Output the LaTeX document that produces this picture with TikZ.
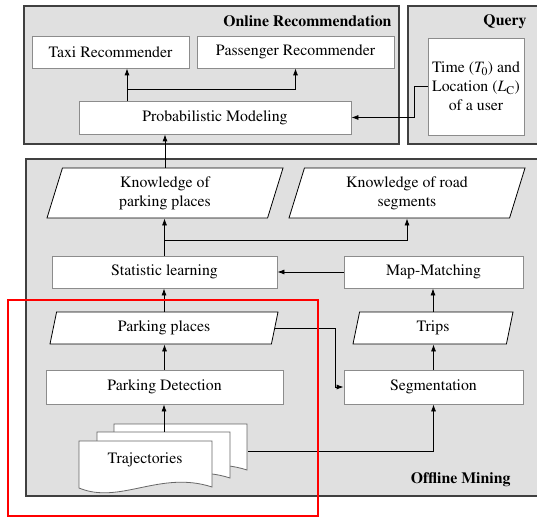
\documentclass[tikz,border=0pt]{standalone}
\usepackage[T1]{fontenc}
\usepackage{mathptmx}
\usetikzlibrary{positioning, shapes.geometric, arrows.meta}

\begin{document}
\begin{tikzpicture}[x = 1pt, y = -1pt,
    every node/.style = { font = \fontsize{15.8}{19}\selectfont, align = center },
    panel/.style = { draw = black!75, line width = 1.2pt, fill = black!12 },
    title/.style = { font = \fontsize{15.8}{19}\selectfont\bfseries, anchor = east },
    box/.style = { draw = black!45, fill = white, line width = .8pt, minimum height = 32pt, inner sep = 0pt },
    data/.style = { draw, fill = white, line width = .8pt, shape = trapezium, trapezium left angle = 65,
      trapezium right angle = 115, trapezium stretches body, inner sep = 0pt, minimum height = 32pt },
    doc/.style = { draw = black!60, fill = white, line width = .8pt },
    arr/.style = { -{Latex[length = 7pt, width = 5pt]}, line width = .8pt }]
  \useasboundingbox (0,0) rectangle (537,518);
  \clip (0,0) rectangle (537,518);

  % the three panels
  \draw[panel] (24,6) rectangle (399,144);
  \draw[panel] (408,6) rectangle (545,144);
  \draw[panel] (26,159) rectangle (545,496);
  \node[title] (online) at (395,21) {Online Recommendation};
  \node[title] (qtitle) at (530,22) {Query};
  \node[title] (offline) at (514,480) {Offline Mining};

  % online part
  \node[box, minimum width = 157pt] (taxi) at (110.5,52) {Taxi Recommender};
  \node[box, minimum width = 197pt] (pass) at (295.5,52) {Passenger Recommender};
  \node[box, minimum width = 272pt, minimum height = 33pt] (pm) at (215,117.5) {Probabilistic Modeling};
  \node[box, minimum width = 96pt, minimum height = 97pt] (query) at (476,86.5)
    {Time ($T_0$) and\\ Location ($L_\mathrm{C}$)\\ of a user};

  % offline part
  \node[data, minimum width = 236pt, minimum height = 50pt] (kpark) at (165,193) {Knowledge of\\ parking places};
  \node[data, minimum width = 236pt, minimum height = 50pt] (kroad) at (407,193) {Knowledge of road\\ segments};
  \node[box, minimum width = 225pt] (stat) at (164.5,272) {Statistic learning};
  \node[box, minimum width = 179pt] (map) at (433.5,272) {Map-Matching};
  \node[data, minimum width = 228pt] (park) at (164,328) {Parking places};
  \node[data, minimum width = 160pt] (trips) at (433,328) {Trips};
  \node[box, minimum width = 237pt, minimum height = 34pt] (det) at (164.5,387) {Parking Detection};
  \node[box, minimum width = 179pt, minimum height = 34pt] (seg) at (433.5,387) {Segmentation};

  % stack of trajectory files
  \foreach \dx/\dy in {35/17, 18/9, 0/0}
    \draw[doc] (79+\dx,441-\dy) -- (212+\dx,441-\dy) -- (212+\dx,487-\dy)
      .. controls (160+\dx,470-\dy) and (120+\dx,505-\dy) .. (79+\dx,488-\dy) -- cycle;
  \node (traj) at (145,460) {Trajectories};
  \coordinate (trajtop) at (164,432);
  \coordinate (trajright) at (248,451);

  % connectors
  \coordinate (psplit) at (127,89);
  \draw[arr] (psplit |- pm.north) -- (psplit |- taxi.south);
  \draw[arr] (psplit) -| (pass.south);
  \draw[arr] (query.west) -- ++(-13,0) |- (pm.east);
  \draw[arr] (kpark.north) -- (kpark.north |- pm.south);
  \coordinate (ksplit) at (164.5,240);
  \draw[arr] (stat.north) -- (stat.north |- kpark.south);
  \draw[arr] (ksplit) -| (kroad.south);
  \draw[arr] (map.west) -- (stat.east);
  \draw[arr] (trips.north) -- (trips.north |- map.south);
  \draw[arr] (seg.north) -- (seg.north |- trips.south);
  \draw[arr] (park.north) -- (park.north |- stat.south);
  \draw[arr] (det.north) -- (det.north |- park.south);
  \draw[arr] (park.east) -- ++(60,0) |- (seg.west);
  \draw[arr] (trajtop) -- (trajtop |- det.south);
  \draw[arr] (trajright) -| (seg.south);

  % highlight
  \draw[red, line width = 2.5pt] (8,300) rectangle (318,516);
\end{tikzpicture}
\end{document}
